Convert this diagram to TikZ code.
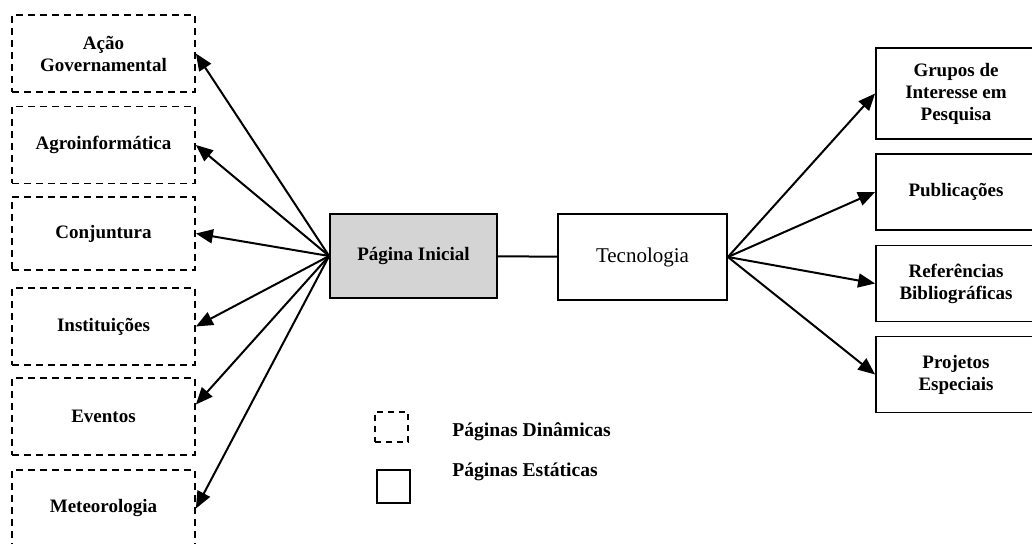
\documentclass[tikz,border=0pt]{standalone}
\usepackage{fontspec}
\setmainfont{Liberation Serif}
\usetikzlibrary{arrows.meta,positioning}
\tikzset{
    % Page boxes (dynamic = dashed, static = solid)
    dynpage/.style={
        draw, dashed, dash pattern=on 3.5pt off 2.5pt, line width=0.9pt,
        minimum width=91.5pt, minimum height=38.5pt, inner sep=1pt,
        align=center, font=\fontsize{9.5}{11}\selectfont\bfseries
    },
    statpage/.style={
        draw, line width=0.9pt,
        minimum width=80pt, minimum height=38pt, inner sep=1pt,
        align=center, font=\fontsize{9.5}{11}\selectfont\bfseries
    },
    homepage/.style={statpage, fill=black!17, minimum width=83.5pt, minimum height=42pt},
    techpage/.style={statpage, minimum width=84.5pt, minimum height=43pt,
        font=\fontsize{10.5}{12}\selectfont},
    % Legend
    legendbox/.style={draw, line width=0.9pt, minimum width=16.5pt, minimum height=15pt, inner sep=0pt},
    legendtext/.style={anchor=west, inner sep=0pt, font=\fontsize{9.8}{11}\selectfont\bfseries},
    % Links
    link/.style={line width=1pt, -{Triangle[length=8.5pt,width=7pt]}},
    plainlink/.style={line width=1pt}
}
\begin{document}
\begin{tikzpicture}[x=0.5pt,y=-0.5pt]
  \useasboundingbox (0,0) rectangle (1032,544);
  % left column
  \node[dynpage] (acao) at (103.5,53.5) {Ação\\Governamental};
  \node[dynpage] (agro) at (103.5,145) {Agroinformática};
  \node[dynpage, minimum height=36.5pt] (conj) at (103.5,233.5) {Conjuntura};
  \node[dynpage] (inst) at (103.5,326.5) {Instituições};
  \node[dynpage] (even) at (103.5,416.5) {Eventos};
  \node[dynpage] (mete) at (103.5,508.5) {Meteorologia};
  % centre
  \node[homepage] (home) at (413.5,256) {Página Inicial};
  \node[techpage] (tecn) at (642.5,257) {Tecnologia};
  % right column
  \node[statpage, minimum height=45.5pt] (grup) at (956,93.5) {Grupos de\\Interesse em\\Pesquisa};
  \node[statpage] (publ) at (956,192) {Publicações};
  \node[statpage] (refe) at (956,283.5) {Referências\\Bibliográficas};
  \node[statpage] (proj) at (956,374.5) {Projetos\\Especiais};
  % legend
  \node[legendbox, dashed, dash pattern=on 3pt off 2.5pt] (ldyn) at (391.5,427) {};
  \node[legendbox, minimum height=16.5pt] (lsta) at (393.5,486.5) {};
  \node[legendtext] (tdyn) at (452,432) {Páginas Dinâmicas};
  \node[legendtext] (tsta) at (452,472) {Páginas Estáticas};

  \foreach \t in {acao,agro,conj,inst,mete}
    \draw[link] (home.west) -- (\t.east);
  \draw[link] (home.west) -- ([yshift=6pt]even.east);
  \draw[plainlink] (home) -- (tecn);
  \foreach \t in {grup,publ,refe,proj}
    \draw[link] (tecn.east) -- (\t.west);
\end{tikzpicture}
\end{document}
